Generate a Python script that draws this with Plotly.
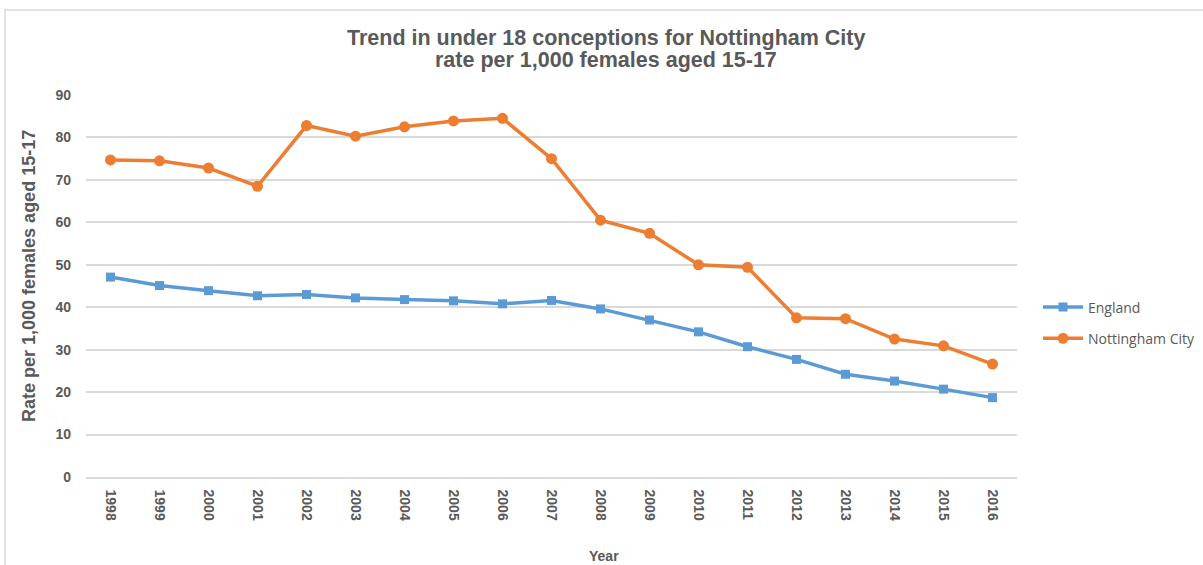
import plotly.graph_objects as go

years = [str(y) for y in range(1998, 2017)]
england = [47.1, 45.1, 43.9, 42.7, 43.0, 42.2, 41.8, 41.5, 40.8, 41.6,
           39.6, 37.0, 34.2, 30.7, 27.7, 24.2, 22.6, 20.7, 18.7]
nottingham = [74.7, 74.5, 72.8, 68.5, 82.8, 80.3, 82.5, 83.9, 84.5, 75.0,
              60.5, 57.4, 50.0, 49.4, 37.5, 37.3, 32.5, 30.9, 26.6]
y_ticks = list(range(0, 100, 10))
title_lines = ["Trend in under 18 conceptions for Nottingham City",
               "rate per 1,000 females aged 15-17"]

grey = "#595959"
W, H = 1203, 565
L, R, T, B = 86, 1017, 95, 477

def px_to_py(y):
    return (B - y) / (B - T)

def px_to_px(x):
    return (x - L) / (R - L)

fig = go.Figure()
fig.add_trace(go.Scatter(
    x=years, y=england, name="England", mode="lines+markers",
    line=dict(color="#5B9BD5", width=3.5),
    marker=dict(symbol="square", size=9, color="#5B9BD5"),
    legendgroup="a",
))
fig.add_trace(go.Scatter(
    x=years, y=nottingham, name="Nottingham City", mode="lines+markers",
    line=dict(color="#ED7D31", width=3.5),
    marker=dict(symbol="circle", size=11, color="#ED7D31"),
    legendgroup="b",
))

annotations = []
for i, (txt, yc) in enumerate(zip(title_lines, [38, 60])):
    annotations.append(dict(
        text="<b>" + txt + "</b>", xref="paper", yref="paper",
        x=px_to_px(606), y=px_to_py(yc), xanchor="center", yanchor="middle",
        showarrow=False, font=dict(size=21.5, color=grey),
    ))
annotations.append(dict(
    text="<b>Year</b>", xref="paper", yref="paper",
    x=px_to_px(604), y=px_to_py(556), xanchor="center", yanchor="middle",
    showarrow=False, font=dict(size=14, color=grey),
))
annotations.append(dict(
    text="<b>Rate per 1,000 females aged 15-17</b>", xref="paper", yref="paper",
    x=px_to_px(29), y=px_to_py(276), xanchor="center", yanchor="middle",
    textangle=-90, showarrow=False, font=dict(size=18, color=grey),
))

fig.update_layout(
    width=W, height=H,
    margin=dict(l=L, r=W - R, t=T, b=H - B, autoexpand=False),
    paper_bgcolor="white", plot_bgcolor="white",
    font=dict(family="Liberation Sans, Arial, sans-serif", color=grey),
    xaxis=dict(
        type="category", range=[-0.5, 18.5], tickangle=90, automargin=False,
        tickfont=dict(size=14, color=grey, weight="bold"),
        showgrid=False, showline=True, linecolor="#D9D9D9", linewidth=1.5,
        ticks="", ticklabelstandoff=8,
    ),
    yaxis=dict(
        range=[0, 90], tickvals=y_ticks, showgrid=True, gridcolor="#D9D9D9",
        gridwidth=1.5, zeroline=False, showline=False, ticks="", automargin=False,
        tickfont=dict(size=14, color=grey, weight="bold"),
        ticklabelstandoff=14,
    ),
    legend=dict(
        x=px_to_px(1038), xanchor="left", y=px_to_py(323), yanchor="middle",
        font=dict(size=14, color=grey, family="Open Sans, Liberation Sans, sans-serif"),
        tracegroupgap=10, itemwidth=40, bgcolor="rgba(0,0,0,0)",
    ),
    annotations=annotations,
    shapes=[dict(
        type="rect", xref="paper", yref="paper",
        x0=px_to_px(5), x1=px_to_px(1210),
        y0=px_to_py(575), y1=px_to_py(10),
        line=dict(color="#D9D9D9", width=1.5), fillcolor="rgba(0,0,0,0)",
        layer="below",
    )],
    showlegend=True,
)

fig.write_html(
    "out.html",
    config={"displayModeBar": False},
    post_script="document.body.style.margin='0';document.body.style.overflow='hidden';",
)
